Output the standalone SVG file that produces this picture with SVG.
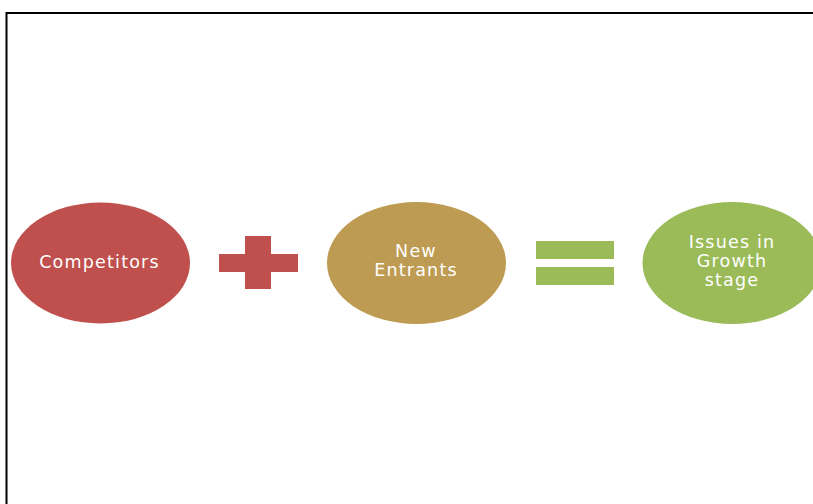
<svg xmlns="http://www.w3.org/2000/svg" width="813" height="504" viewBox="0 0 813 504">
  <style>
    .lbl { font-family: "DejaVu Sans", "Open Sans", sans-serif; font-size: 17.5px; letter-spacing: 1.2px; fill: #ffffff; text-anchor: middle; }
  </style>
  <rect x="0" y="0" width="813" height="504" fill="#ffffff"/>
  <!-- frame -->
  <path d="M6.5 520 V13 H830" fill="none" stroke="#000000" stroke-width="2"/>

  <g id="competitors">
    <ellipse cx="100.5" cy="263" rx="89.5" ry="60.5" fill="#C0504D"/>
    <text class="lbl" x="99.5" y="267.5">Competitors</text>
  </g>

  <g id="plus">
    <rect x="219" y="254" width="79" height="18" fill="#C0504D"/>
    <rect x="245" y="236" width="26" height="53" fill="#C0504D"/>
  </g>

  <g id="new-entrants">
    <ellipse cx="416.5" cy="263" rx="89.5" ry="61" fill="#BE9B52"/>
    <text class="lbl" x="416" y="257">New</text>
    <text class="lbl" x="416" y="276">Entrants</text>
  </g>

  <g id="equals">
    <rect x="536" y="241" width="78" height="18" fill="#9BBB59"/>
    <rect x="536" y="267" width="78" height="18" fill="#9BBB59"/>
  </g>

  <g id="issues">
    <ellipse cx="732" cy="263" rx="89.5" ry="61" fill="#9BBB59"/>
    <text class="lbl" x="732" y="248">Issues in</text>
    <text class="lbl" x="732" y="267">Growth</text>
    <text class="lbl" x="732" y="286">stage</text>
  </g>

  <g id="connectors"/>
</svg>
